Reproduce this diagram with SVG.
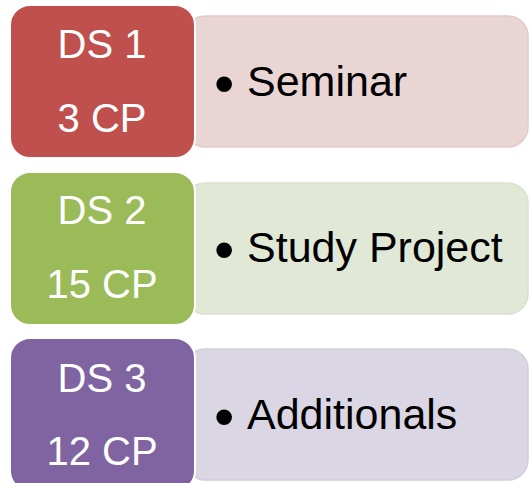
<svg xmlns="http://www.w3.org/2000/svg" width="530" height="483" viewBox="0 0 530 483">
<style>
.lt{font-family:"Liberation Sans",Arial,sans-serif;font-size:40px;fill:#fff;text-anchor:middle}
.rt{font-family:"Liberation Sans",Arial,sans-serif;font-size:43px;fill:#000}
.bul{font-family:"Liberation Sans",Arial,sans-serif;font-size:58px;fill:#000}
.lb{stroke:#fff;stroke-width:2}
</style>
<rect width="530" height="483" fill="#fff"/>
<g id="row1">
<rect x="185" y="16" width="343" height="131" rx="20" fill="#EAD5D5" stroke="#E5C9C9" stroke-width="1.5"/>
<rect class="lb" x="10" y="5" width="185" height="153" rx="20" fill="#C0504D"/>
<text class="lt" x="102" y="58">DS 1</text>
<text class="lt" x="102" y="132">3 CP</text>
<text class="bul" x="214" y="103">•</text>
<text class="rt" x="247" y="96">Seminar</text>
</g>
<g id="row2">
<rect x="185" y="183" width="343" height="131" rx="20" fill="#E1E8D5" stroke="#DAE2CC" stroke-width="1.5"/>
<rect class="lb" x="10" y="172" width="185" height="153" rx="20" fill="#9BBB59"/>
<text class="lt" x="102" y="224">DS 2</text>
<text class="lt" x="102" y="298">15 CP</text>
<text class="bul" x="214" y="269">•</text>
<text class="rt" x="247" y="262">Study Project</text>
</g>
<g id="row3">
<rect x="185" y="349" width="343" height="131" rx="20" fill="#DAD6E3" stroke="#D3CEDD" stroke-width="1.5"/>
<rect class="lb" x="10" y="338" width="185" height="153" rx="20" fill="#8064A2"/>
<text class="lt" x="102" y="392">DS 3</text>
<text class="lt" x="102" y="465">12 CP</text>
<text class="bul" x="214" y="436">•</text>
<text class="rt" x="247" y="429">Additionals</text>
</g>
<g id="connectors"></g>
</svg>
